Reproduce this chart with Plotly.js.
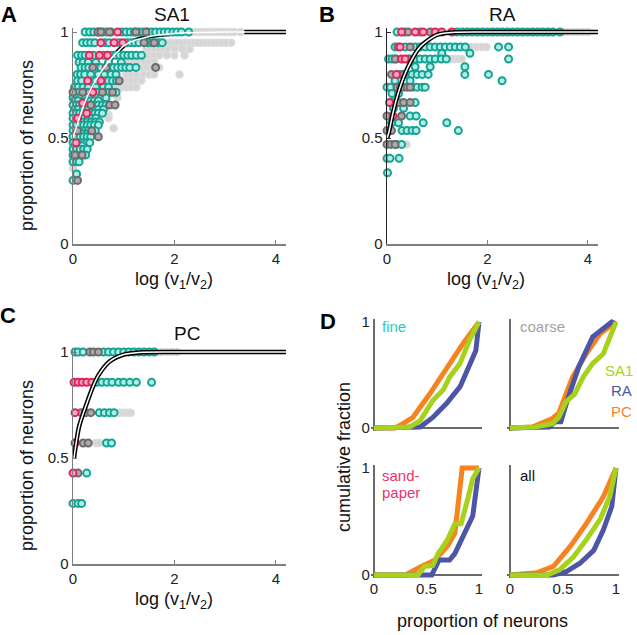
<!DOCTYPE html>
<html><head><meta charset="utf-8">
<script src="https://cdn.plot.ly/plotly-3.0.1.min.js"></script>
<style>html,body{margin:0;padding:0;background:#fff}#chart{width:637px;height:635px}</style>
</head><body><div id="chart"></div><script>
// ---------- Panel A (SA1) scatter rows: y level + x values ----------
const SA1_fine_levels = [1.0,0.95,0.89,0.857,0.833,0.8,0.77,0.74,0.716,0.69,0.676,0.656,0.635,0.617,0.593,0.576,0.561,0.534,0.52,0.506,0.478,0.463,0.447,0.42,0.405,0.388,0.33,0.3];
const SA1_fine_x = [
 [0.24,0.33,0.41,0.5,0.58,0.66,0.75,0.97,1.05,1.13,1.21,1.3,1.38,1.47,1.55,1.63,1.72,1.8,1.88,1.97,2.05,2.14,2.28],
 [0.19,0.27,0.35,0.43,0.63,0.71,0.9,1.06,1.14,1.22,1.3,1.48,1.56,1.68,1.76],
 [0.09,0.17,0.24,0.4,0.6,0.76,0.84,0.92,1.0,1.08,1.16,1.25,1.35],
 [0.12,0.2,0.3,0.45,0.7,0.95],
 [0.16,0.24,0.31,0.47,0.55,0.72,0.8,0.88,0.96,1.04,1.12,1.24],
 [0.08,0.15,0.23,0.35,0.5,0.62,0.75,0.85],
 [0.09,0.17,0.37,0.45,0.63,0.7,0.78,0.86],
 [0.03,0.1,0.2,0.3,0.45,0.6,0.7],
 [0.07,0.12,0.27,0.33,0.45,0.51,0.65,0.72,0.85],
 [0.0,0.08,0.15,0.25,0.35,0.45,0.55,0.65],
 [0.03,0.1,0.27,0.35,0.42,0.5],
 [0.0,0.07,0.13,0.27,0.42,0.5,0.58,0.65],
 [0.03,0.1,0.2,0.3,0.4,0.5,0.6],
 [0.0,0.07,0.13,0.2,0.35,0.43,0.5,0.58],
 [0.0,0.15,0.22,0.3,0.38,0.45],
 [0.05,0.12,0.2,0.28,0.36,0.44,0.52],
 [0.0,0.07,0.14,0.21,0.28,0.35,0.42,0.5],
 [0.0,0.16,0.23,0.3,0.44],
 [0.05,0.12,0.2,0.28,0.35],
 [0.0,0.07,0.14,0.21,0.28,0.35],
 [0.0,0.12,0.2,0.27,0.33],
 [0.04,0.1,0.18],
 [0.0,0.07,0.14,0.21,0.28],
 [0.0,0.19,0.25],
 [0.03,0.1],
 [0.0,0.07,0.12],
 [0.07],
 [0.0]
];
const SA1_coarse_levels = [1.0,0.95,0.92,0.89,0.86,0.833,0.8,0.77,0.74,0.69,0.61,0.593,0.546,0.357];
const SA1_coarse_x = [
 [2.36,2.44,2.52,2.6,2.68,2.76,2.85,2.93,3.01,3.1,3.18,3.3],
 [1.82,1.9,1.98,2.06,2.14,2.22,2.3,2.38,2.46,2.54,2.62,2.7,2.78,2.86,2.94,3.02,3.12],
 [1.45,1.53,1.61,1.7,1.78,1.86,2.0,2.15,2.3],
 [1.4,1.5,1.6,1.7,1.85,2.0,2.2],
 [1.1,1.2,1.3,1.4,1.5,1.6],
 [1.3,1.38,1.46,1.55,1.7],
 [1.05,1.15,1.25,1.4,1.5,1.6,2.1],
 [0.95,1.05,1.15,1.25,1.35],
 [0.85,0.95,1.05,1.15,1.25],
 [0.88],[0.7],[0.7],[0.8],[0.0]
];
const SA1_dark_levels = [1.0,0.95,0.833,0.77,0.716,0.656,0.534,0.506,0.42,0.3];
const SA1_dark_x = [[0.49,0.55,0.72,1.24,1.44],[1.4,1.6],[0.39,0.65,1.63],[0.91],[0.0,0.19,0.58,0.78],[0.35,0.72,0.83],[0.09,0.37],[0.5],[0.04,0.18],[0.09]];
const SA1_sand_levels = [1.0,0.95,0.89,0.77,0.716,0.665,0.617,0.593,0.478];
const SA1_sand_x = [[0.88],[0.55,0.81,0.98],[0.32,0.52,0.68],[0.29,0.55],[0.39],[0.19],[0.27],[0.09],[0.06]];
const SA1_fit_x = [0,0.05,0.12,0.22,0.35,0.52,0.7,0.85,1.0,1.15,1.31,1.57,1.83,2.3,3,4.2];
const SA1_fit_y = [0.5,0.54,0.59,0.66,0.73,0.8,0.86,0.9,0.935,0.955,0.967,0.983,0.99,0.997,1,1];

// ---------- Panel B (RA) ----------
const RA_fine_levels = [1.0,0.93,0.90,0.873,0.836,0.80,0.77,0.74,0.71,0.667,0.64,0.604,0.572,0.535,0.47,0.404,0.336];
const RA_fine_x = [
 [0.2,0.35,0.65,1.39,1.5,1.6,1.7,1.8,1.9,2.0,2.1,2.2,2.3,2.4,2.5,2.6,2.7,2.8,2.9,3.0,3.1,3.2,3.3,3.44],
 [0.16,0.36,0.56,0.66,0.76,0.86,0.96,1.06,1.16,1.26,1.36,1.46,1.56,2.22,2.42],
 [1.09,1.65],
 [0.03,0.1,0.18,0.46,0.56,0.66,0.76,0.86,0.96,1.08,1.18,2.42],
 [0.56,0.86,1.55],
 [0.26,0.4,0.5,0.6,0.7,0.82,1.55,2.02],
 [0.16,0.46,2.29],
 [0.0,0.07,0.52,0.6,0.7,0.76],
 [0.1,0.23],
 [0.1,0.18,0.56],
 [0.13,0.33],
 [0.46,0.58],
 [0.09,0.23,0.72,1.19],
 [0.03,0.3,0.4,0.5,0.58,1.42],
 [0.19,0.29],
 [0.0,0.06,0.24],
 [0.01]
];
const RA_coarse_levels = [1.0,0.93,0.873,0.47];
const RA_coarse_x = [[3.5,3.6,3.7,3.8,3.9,4.0],[1.68,1.78,1.88,1.98],[1.29,1.36,1.42,1.49],[0.39]];
const RA_dark_levels = [1.0,0.93,0.873,0.80,0.74,0.667,0.604,0.535,0.47];
const RA_dark_x = [[0.42,0.86],[0.22,0.46],[0.16,0.42],[0.09,0.33],[0.2,0.27,0.33,0.4,0.46],[0.23,0.33,0.46],[0.0,0.29],[0.0,0.09],[0.0,0.08,0.16]];
const RA_sand_levels = [1.0,0.93,0.873,0.80,0.667,0.604];
const RA_sand_x = [[0.29,0.56,0.72,0.96,1.09,1.29],[0.26],[0.29,0.36],[0.19],[0.05],[0.12]];
const RA_fit_x = [0,0.03,0.13,0.26,0.42,0.66,0.99,1.3,2,4.2];
const RA_fit_y = [0.5,0.52,0.63,0.74,0.836,0.93,0.986,0.998,1,1];

// ---------- Panel C (PC) ----------
const PC_fine_levels = [1.0,0.857,0.714,0.571,0.429,0.286];
const PC_fine_x = [
 [0.04,0.1,0.2,0.6,0.7,0.8,0.9,1.0,1.1,1.2,1.3,1.4,1.5,1.6],
 [0.47,0.57,0.67,0.77,0.9,1.0,1.12,1.25,1.55],
 [0.52,0.62,0.72,0.81],
 [0.66,0.76],
 [0.27],
 [0.0,0.1,0.17]
];
const PC_coarse_levels = [1.0,0.714,0.571];
const PC_coarse_x = [[1.65,1.75,1.85,1.95,2.05],[0.91,0.99,1.07,1.14],[0.45,0.52]];
const PC_dark_levels = [1.0,0.714,0.571,0.429];
const PC_dark_x = [[0.33,0.4,0.5],[0.16,0.25,0.35],[0.2,0.3],[0.1]];
const PC_sand_levels = [0.857,0.714,0.571,0.429];
const PC_sand_x = [[0.02,0.1,0.18,0.27,0.37],[0.04],[0.04],[0.0]];
const PC_fit_x = [0.02,0.12,0.26,0.4,0.5,0.72,1.0,1.3,2,4.2];
const PC_fit_y = [0.5,0.648,0.75,0.84,0.89,0.955,0.988,0.998,1,1];

// ---------- Panel D: cumulative fraction curves ----------
const fine_PC_x = [0,0.2,0.25,0.37,0.53,0.69,0.85,1],   fine_PC_y = [0,0,0.025,0.10,0.32,0.56,0.80,1];
const fine_RA_x = [0,0.4,0.44,0.56,0.69,0.82,0.91,0.97,1], fine_RA_y = [0,0,0.01,0.10,0.23,0.39,0.58,0.73,1];
const fine_SA1_x = [0,0.3,0.34,0.44,0.56,0.66,0.72,0.82,0.91,1], fine_SA1_y = [0,0,0.01,0.07,0.26,0.36,0.48,0.61,0.83,1];
const coarse_PC_x = [0,0.21,0.4,0.46,0.59,0.72,0.85,1], coarse_PC_y = [0,0.01,0.09,0.14,0.48,0.70,0.89,1];
const coarse_RA_x = [0,0.37,0.43,0.48,0.54,0.65,0.78,0.91,0.96,1], coarse_RA_y = [0,0.01,0.06,0.06,0.26,0.58,0.86,0.96,1,0.98];
const coarse_SA1_x = [0,0.24,0.4,0.46,0.53,0.61,0.69,0.78,0.88,1], coarse_SA1_y = [0,0.01,0.04,0.10,0.25,0.32,0.48,0.61,0.70,1];
const sand_PC_x = [0,0.3,0.45,0.58,0.7,0.77,0.84,1], sand_PC_y = [0,0,0.08,0.14,0.27,0.39,1,1];
const sand_RA_x = [0,0.45,0.55,0.62,0.72,0.77,0.86,0.94,1], sand_RA_y = [0,0,0,0.14,0.14,0.2,0.39,0.55,1];
const sand_SA1_x = [0,0.42,0.48,0.56,0.61,0.7,0.77,0.83,0.89,0.94,1], sand_SA1_y = [0,0,0.08,0.09,0.2,0.33,0.48,0.48,0.7,0.9,1];
const all_PC_x = [0,0.25,0.41,0.57,0.72,0.88,1], all_PC_y = [0,0.02,0.08,0.27,0.48,0.73,1];
const all_RA_x = [0,0.41,0.53,0.66,0.79,0.88,0.96,1], all_RA_y = [0,0,0.03,0.11,0.23,0.42,0.64,1];
const all_SA1_x = [0,0.35,0.47,0.6,0.72,0.85,0.94,1], all_SA1_y = [0,0,0.05,0.17,0.33,0.52,0.73,1];

// ---------- helpers ----------
const W=637,H=635;
const px=x=>x/W, py=y=>1-y/H;
const FONT='Arial, "Liberation Sans", sans-serif';
function rows(levels, xs){const X=[],Y=[];levels.forEach((l,i)=>xs[i].forEach(v=>{X.push(v);Y.push(l);}));return {x:X,y:Y};}
const STY={
 fine:{color:'#aeeee6',line:{color:'#15a394',width:2}},
 coarse:{color:'#d5d5d5',line:{color:'#dcdcdc',width:1.5}},
 dark:{color:'#ababab',line:{color:'#6c6c6c',width:2}},
 sand:{color:'#f8a9bf',line:{color:'#e2245b',width:2}}
};
function scat(d,sty,xa,ya){return {type:'scatter',mode:'markers',x:d.x,y:d.y,xaxis:xa,yaxis:ya,cliponaxis:false,hoverinfo:'skip',showlegend:false,marker:{size:7,color:sty.color,line:sty.line}};}
function curve(x,y,xa,ya,color,width,spline){return {type:'scatter',mode:'lines',x:x,y:y,xaxis:xa,yaxis:ya,hoverinfo:'skip',showlegend:false,line:{color:color,width:width,shape:spline?'spline':'linear',smoothing:0.8}};}

const traces=[];
// Panel A
traces.push(curve(SA1_fit_x,SA1_fit_y,'x','y','#000',4.5,true));
traces.push(scat(rows(SA1_coarse_levels,SA1_coarse_x),STY.coarse,'x','y'));
traces.push(scat(rows(SA1_fine_levels,SA1_fine_x),STY.fine,'x','y'));
traces.push(scat(rows(SA1_dark_levels,SA1_dark_x),STY.dark,'x','y'));
traces.push(scat(rows(SA1_sand_levels,SA1_sand_x),STY.sand,'x','y'));
traces.push(curve(SA1_fit_x,SA1_fit_y,'x','y','#fff',1.5,true));
// Panel B
traces.push(scat(rows(RA_coarse_levels,RA_coarse_x),STY.coarse,'x2','y2'));
traces.push(scat(rows(RA_fine_levels,RA_fine_x),STY.fine,'x2','y2'));
traces.push(scat(rows(RA_dark_levels,RA_dark_x),STY.dark,'x2','y2'));
traces.push(scat(rows(RA_sand_levels,RA_sand_x),STY.sand,'x2','y2'));
traces.push(curve(RA_fit_x,RA_fit_y,'x2','y2','#000',4.5,true));
traces.push(curve(RA_fit_x,RA_fit_y,'x2','y2','#fff',1.5,true));
// Panel C
traces.push(scat(rows(PC_coarse_levels,PC_coarse_x),STY.coarse,'x3','y3'));
traces.push(scat(rows(PC_fine_levels,PC_fine_x),STY.fine,'x3','y3'));
traces.push(scat(rows(PC_dark_levels,PC_dark_x),STY.dark,'x3','y3'));
traces.push(scat(rows(PC_sand_levels,PC_sand_x),STY.sand,'x3','y3'));
traces.push(curve(PC_fit_x,PC_fit_y,'x3','y3','#000',4.5,true));
traces.push(curve(PC_fit_x,PC_fit_y,'x3','y3','#fff',1.5,true));
// Panel D
const C_SA1='#a7d21c', C_RA='#4d56a6', C_PC='#f7821e';
const dsets=[
 ['x4','y4',fine_PC_x,fine_PC_y,fine_RA_x,fine_RA_y,fine_SA1_x,fine_SA1_y],
 ['x5','y5',coarse_PC_x,coarse_PC_y,coarse_RA_x,coarse_RA_y,coarse_SA1_x,coarse_SA1_y],
 ['x6','y6',sand_PC_x,sand_PC_y,sand_RA_x,sand_RA_y,sand_SA1_x,sand_SA1_y],
 ['x7','y7',all_PC_x,all_PC_y,all_RA_x,all_RA_y,all_SA1_x,all_SA1_y]
];
dsets.forEach(s=>{
 traces.push(curve(s[2],s[3],s[0],s[1],C_PC,5));
 traces.push(curve(s[4],s[5],s[0],s[1],C_RA,5));
 traces.push(curve(s[6],s[7],s[0],s[1],C_SA1,5));
});

const tickfont={family:FONT,size:15,color:'#222'};
function scAx(dom,range,tv,lc){return {domain:dom,range:range,tickvals:tv,ticks:'inside',ticklen:4,tickcolor:lc,showline:true,linecolor:lc,linewidth:1.5,showgrid:false,zeroline:false,tickfont:tickfont,fixedrange:true};}
function dAx(dom,anchor,tv,showLabels){return {domain:dom,anchor:anchor,range:[-0.03,1.03],tickvals:tv,ticks:'',showline:false,showgrid:false,zeroline:true,zerolinecolor:'#6a6a6a',zerolinewidth:1.5,showticklabels:showLabels,tickfont:tickfont,fixedrange:true};}

const yA=[py(244),py(27.8)], yC=[py(564),py(347.8)];
const xL=[px(73),px(286)], xB=[px(387),px(598)];
const dxL=[px(370.85),px(482.15)], dxR=[px(506.82),px(619.18)];
const dyT=[py(431.18),py(318.82)], dyB=[py(578.21),py(464.79)];

const layout={
 width:W,height:H,autosize:false,margin:{l:0,r:0,t:0,b:0},
 paper_bgcolor:'#fff',plot_bgcolor:'rgba(0,0,0,0)',showlegend:false,
 font:{family:FONT,color:'#222'},
 xaxis:Object.assign(scAx(xL,[0,4.2],[0,2,4],'#7f7f7f'),{anchor:'y'}),
 yaxis:Object.assign(scAx(yA,[0,1.02],[0,0.5,1],'#7f7f7f'),{anchor:'x'}),
 xaxis2:Object.assign(scAx(xB,[0,4.2],[0,2,4],'#7f7f7f'),{anchor:'y2'}),
 yaxis2:Object.assign(scAx(yA,[0,1.02],[0,0.5,1],'#262626'),{anchor:'x2'}),
 xaxis3:Object.assign(scAx(xL,[0,4.2],[0,2,4],'#7f7f7f'),{anchor:'y3'}),
 yaxis3:Object.assign(scAx(yC,[0,1.02],[0,0.5,1],'#7f7f7f'),{anchor:'x3'}),
 xaxis4:dAx(dxL,'y4',[0,0.5,1],false), yaxis4:dAx(dyT,'x4',[0,1],true),
 xaxis5:dAx(dxR,'y5',[0,0.5,1],false), yaxis5:dAx(dyT,'x5',[0,1],false),
 xaxis6:dAx(dxL,'y6',[0,0.5,1],true),  yaxis6:dAx(dyB,'x6',[0,1],true),
 xaxis7:dAx(dxR,'y7',[0,0.5,1],true),  yaxis7:dAx(dyB,'x7',[0,1],false),
 annotations:[]
};
function ann(text,x,y,opts){layout.annotations.push(Object.assign({text:text,x:px(x),y:py(y),xref:'paper',yref:'paper',showarrow:false,xanchor:'center',yanchor:'middle',font:{family:FONT,size:18,color:'#111'}},opts||{}));}
// panel letters
['A','B','C','D'].forEach((t,i)=>{const pos=[[9,15],[327,15],[8,315],[328,321]][i];ann('<b>'+t+'</b>',pos[0],pos[1],{font:{family:FONT,size:22,color:'#000'}});});
// titles
ann('SA1',172,14,{font:{family:FONT,size:19,color:'#111'}});
ann('RA',502,14,{font:{family:FONT,size:19,color:'#111'}});
ann('PC',187,333,{font:{family:FONT,size:19,color:'#111'}});
// axis titles
ann('proportion of neurons',27,146,{textangle:-90});
ann('proportion of neurons',27,466,{textangle:-90});
ann('log (v<sub>1</sub>/v<sub>2</sub>)',174,280);
ann('log (v<sub>1</sub>/v<sub>2</sub>)',486,280);
ann('log (v<sub>1</sub>/v<sub>2</sub>)',174,600);
ann('cumulative fraction',344,457,{textangle:-90});
ann('proportion of neurons',482,621);
// panel D labels
ann('fine',380,327,{xanchor:'left',font:{family:FONT,size:15,color:'#2fc7c4'}});
ann('coarse',518,327,{xanchor:'left',font:{family:FONT,size:15,color:'#a3a3a3'}});
ann('sand-',380,475,{xanchor:'left',font:{family:FONT,size:15,color:'#e8336d'}});
ann('paper',380,492,{xanchor:'left',font:{family:FONT,size:15,color:'#e8336d'}});
ann('all',518,475,{xanchor:'left',font:{family:FONT,size:15,color:'#111'}});
ann('SA1',635,370,{xanchor:'right',font:{family:FONT,size:15,color:C_SA1}});
ann('RA',609,390,{xanchor:'left',font:{family:FONT,size:15,color:C_RA}});
ann('PC',609,411,{xanchor:'left',font:{family:FONT,size:15,color:C_PC}});

Plotly.newPlot('chart',traces,layout,{staticPlot:true,displayModeBar:false});
</script></body></html>
